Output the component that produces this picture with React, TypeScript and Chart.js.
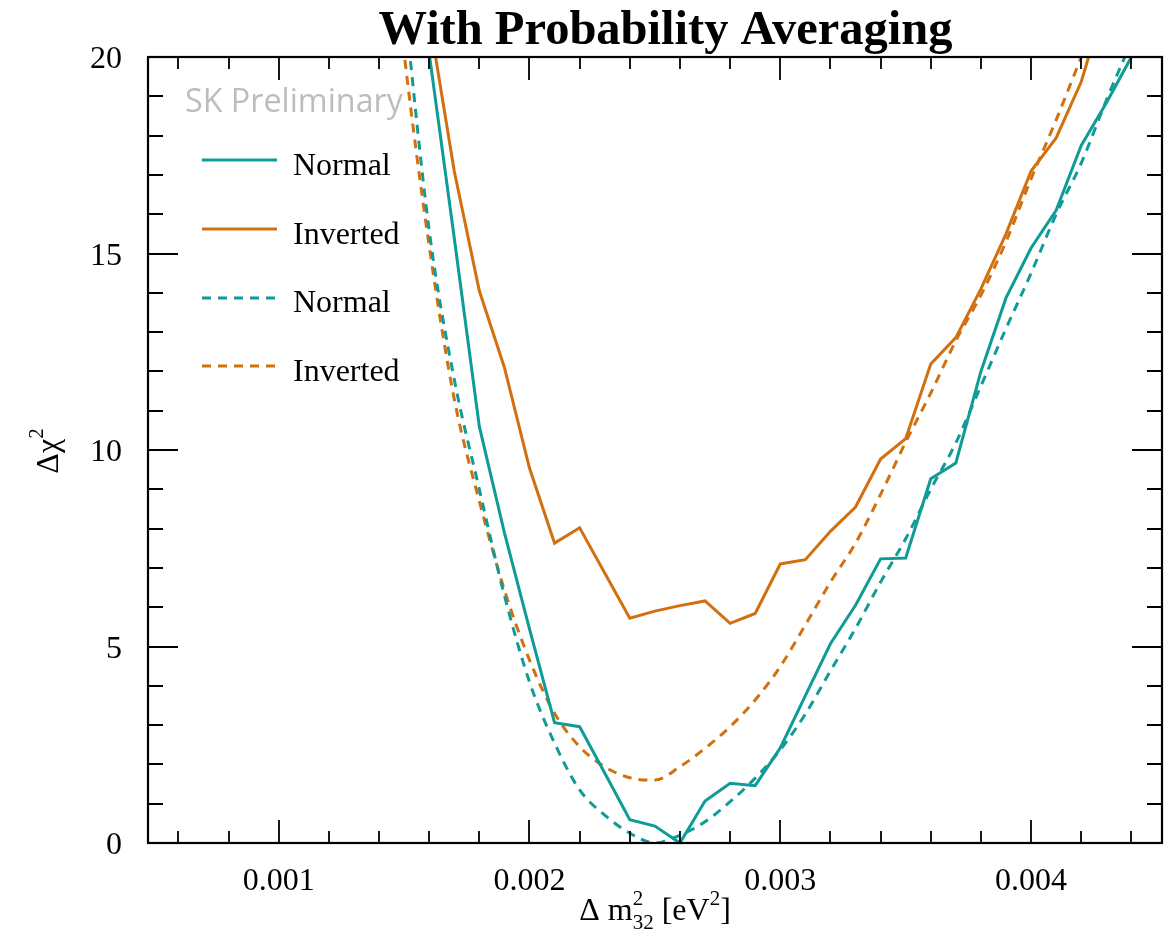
import React, { useEffect, useRef } from 'react';
import { Chart, registerables } from 'chart.js';

Chart.register(...registerables);

// ---- data ----
const X_VALUES = [
  0.0014, 0.0015, 0.0016, 0.0017, 0.0018, 0.0019, 0.0020, 0.0021, 0.0022, 0.0023, 0.0024,
  0.0025, 0.0026, 0.0027, 0.0028, 0.0029, 0.0030, 0.0031, 0.0032, 0.0033, 0.0034, 0.0035,
  0.0036, 0.0037, 0.0038, 0.0039, 0.0040, 0.0041, 0.0042, 0.0043, 0.0044, 0.0045,
];

const NORMAL_SOLID = [
  null, 24.5, 20.1, 15.4, 10.6, 7.9, 5.45, 3.06, 2.96, 1.78, 0.59,
  0.43, 0.0, 1.07, 1.52, 1.46, 2.42, 3.75, 5.07, 6.05, 7.23, 7.25,
  9.27, 9.67, 12.0, 13.87, 15.14, 16.1, 17.75, 18.83, 20.0, 21.2,
];

const INVERTED_SOLID = [
  null, 26, 21.0, 17.1, 14.05, 12.1, 9.54, 7.63, 8.02, 6.87, 5.72,
  5.9, 6.04, 6.16, 5.59, 5.84, 7.1, 7.21, 7.93, 8.55, 9.77, 10.29,
  12.19, 12.86, 14.1, 15.5, 17.1, 17.94, 19.37, 21.5, null, null,
];

const NORMAL_DASHED = [
  28, 21.5, 15.6, 11.8, 9.0, 6.3, 4.1, 2.54, 1.35, 0.71, 0.25,
  0.0, 0.2, 0.54, 1.05, 1.65, 2.37, 3.28, 4.38, 5.46, 6.64, 7.74,
  9.0, 10.18, 11.63, 13.09, 14.5, 16.0, 17.3, 18.9, 20.4, 22.0,
];

const INVERTED_DASHED = [
  26, 20.1, 15.2, 11.3, 8.7, 6.44, 4.66, 3.3, 2.45, 1.94, 1.66,
  1.6, 1.94, 2.41, 2.96, 3.64, 4.49, 5.55, 6.64, 7.63, 8.87, 10.2,
  11.45, 12.78, 13.94, 15.3, 16.9, 18.4, 20.0, 21.6, null, null,
];

const SERIES_LABELS = ['Normal', 'Inverted', 'Normal', 'Inverted'];

const X_TICK_VALUES = [0.001, 0.002, 0.003, 0.004];
const X_TICK_LABELS = ['0.001', '0.002', '0.003', '0.004'];
const Y_TICK_VALUES = [0, 5, 10, 15, 20];
const Y_TICK_LABELS = ['0', '5', '10', '15', '20'];

const TITLE = 'With Probability Averaging';
const WATERMARK = 'SK Preliminary';

const TEAL = '#0f9b97';
const ORANGE = '#d2700f';
const SERIF = '"Liberation Serif", "Times New Roman", serif';

const toPoints = (ys: (number | null)[]) => X_VALUES.map((x, i) => ({ x, y: ys[i] }));

type Part = { t: string; size: number; dy?: number; stackWith?: Part };

function drawRich(ctx: CanvasRenderingContext2D, parts: Part[], cx: number, y: number) {
  const widths = parts.map((p) => {
    ctx.font = `${p.size}px ${SERIF}`;
    let w = ctx.measureText(p.t).width;
    if (p.stackWith) {
      ctx.font = `${p.stackWith.size}px ${SERIF}`;
      w = Math.max(w, ctx.measureText(p.stackWith.t).width);
    }
    return w;
  });
  const total = widths.reduce((a, b) => a + b, 0);
  let x = cx - total / 2;
  ctx.textAlign = 'left';
  ctx.textBaseline = 'alphabetic';
  parts.forEach((p, i) => {
    ctx.font = `${p.size}px ${SERIF}`;
    ctx.fillText(p.t, x, y + (p.dy || 0));
    if (p.stackWith) {
      ctx.font = `${p.stackWith.size}px ${SERIF}`;
      ctx.fillText(p.stackWith.t, x, y + (p.stackWith.dy || 0));
    }
    x += widths[i];
  });
}

const overlayPlugin = {
  id: 'overlay',
  afterDraw(chart: any) {
    const ctx: CanvasRenderingContext2D = chart.ctx;
    const { left, right, top, bottom } = chart.chartArea;
    const xs = chart.scales.x;
    const ys = chart.scales.y;
    ctx.save();
    ctx.fillStyle = '#000';
    ctx.strokeStyle = '#000';

    // ticks
    ctx.lineWidth = 1.8;
    ctx.beginPath();
    const xMinorStep = 0.0002;
    for (let k = Math.ceil(xs.min / xMinorStep); k * xMinorStep <= xs.max; k++) {
      const v = k * xMinorStep;
      const isMajor = X_TICK_VALUES.some((m) => Math.abs(m - v) < 1e-9);
      const len = isMajor ? 23 : 12;
      const px = Math.round(xs.getPixelForValue(v)) + 0.0;
      ctx.moveTo(px, bottom);
      ctx.lineTo(px, bottom - len);
      ctx.moveTo(px, top);
      ctx.lineTo(px, top + len);
    }
    for (let v = Math.ceil(ys.min); v <= ys.max; v++) {
      const isMajor = Y_TICK_VALUES.includes(v);
      const len = isMajor ? 30 : 15;
      const py = Math.round(ys.getPixelForValue(v));
      ctx.moveTo(left, py);
      ctx.lineTo(left + len, py);
      ctx.moveTo(right, py);
      ctx.lineTo(right - len, py);
    }
    ctx.stroke();

    // frame
    ctx.lineWidth = 2.2;
    ctx.strokeRect(left, top, right - left, bottom - top);

    // tick labels
    ctx.font = `32px ${SERIF}`;
    ctx.textAlign = 'center';
    ctx.textBaseline = 'alphabetic';
    X_TICK_VALUES.forEach((v, i) => {
      ctx.fillText(X_TICK_LABELS[i], xs.getPixelForValue(v), bottom + 47);
    });
    ctx.textAlign = 'right';
    Y_TICK_VALUES.forEach((v, i) => {
      ctx.fillText(Y_TICK_LABELS[i], left - 26, ys.getPixelForValue(v) + 11);
    });

    // x axis title
    drawRich(
      ctx,
      [
        { t: '\u0394 m', size: 32 },
        { t: '2', size: 21, dy: -15, stackWith: { t: '32', size: 21, dy: 9 } },
        { t: ' [eV', size: 32 },
        { t: '2', size: 21, dy: -15 },
        { t: ']', size: 32 },
      ],
      (left + right) / 2,
      920
    );

    // y axis title
    ctx.save();
    ctx.translate(58, 451);
    ctx.rotate(-Math.PI / 2);
    drawRich(
      ctx,
      [
        { t: '\u0394\u03c7', size: 32 },
        { t: '2', size: 21, dy: -15 },
      ],
      0,
      0
    );
    ctx.restore();

    // title
    ctx.font = `bold 44px ${SERIF}`;
    const tw = ctx.measureText(TITLE).width;
    const tSize = (44 * 574) / tw;
    ctx.font = `bold ${tSize.toFixed(2)}px ${SERIF}`;
    ctx.textAlign = 'center';
    ctx.textBaseline = 'alphabetic';
    ctx.fillText(TITLE, 665.5, 44);

    // watermark
    ctx.font = `31px "Open Sans", "Noto Sans", sans-serif`;
    const ww = ctx.measureText(WATERMARK).width;
    const wSize = (31 * 218) / ww;
    ctx.font = `${wSize.toFixed(2)}px "Open Sans", "Noto Sans", sans-serif`;
    ctx.fillStyle = '#bdbdbd';
    ctx.textAlign = 'left';
    ctx.fillText(WATERMARK, 185, 112);

    // legend
    const rowsLineY = [160, 229, 298, 366];
    const rowsTextY = [175, 244, 312, 381];
    chart.data.datasets.forEach((ds: any, i: number) => {
      ctx.strokeStyle = ds.borderColor;
      ctx.lineWidth = 3;
      ctx.setLineDash(ds.borderDash || []);
      ctx.beginPath();
      ctx.moveTo(202, rowsLineY[i]);
      ctx.lineTo(277, rowsLineY[i]);
      ctx.stroke();
      ctx.setLineDash([]);
      ctx.fillStyle = '#000';
      ctx.font = `32px ${SERIF}`;
      ctx.textAlign = 'left';
      ctx.fillText(ds.label, 293, rowsTextY[i]);
    });

    ctx.restore();
  },
};

export default function App() {
  const canvasRef = useRef<HTMLCanvasElement | null>(null);

  useEffect(() => {
    if (!canvasRef.current) return;
    const chart = new Chart(canvasRef.current, {
      type: 'line',
      data: {
        datasets: [
          {
            label: SERIES_LABELS[0],
            data: toPoints(NORMAL_SOLID),
            borderColor: TEAL,
            borderWidth: 3,
            pointRadius: 0,
            tension: 0,
            clip: 0,
          },
          {
            label: SERIES_LABELS[1],
            data: toPoints(INVERTED_SOLID),
            borderColor: ORANGE,
            borderWidth: 3,
            pointRadius: 0,
            tension: 0,
            clip: 0,
          },
          {
            label: SERIES_LABELS[2],
            data: toPoints(NORMAL_DASHED),
            borderColor: TEAL,
            borderWidth: 3,
            borderDash: [9, 7],
            pointRadius: 0,
            cubicInterpolationMode: 'monotone',
            clip: 0,
          },
          {
            label: SERIES_LABELS[3],
            data: toPoints(INVERTED_DASHED),
            borderColor: ORANGE,
            borderWidth: 3,
            borderDash: [9, 7],
            pointRadius: 0,
            cubicInterpolationMode: 'monotone',
            clip: 0,
          },
        ] as any,
      },
      options: {
        animation: false,
        responsive: false,
        layout: { padding: { top: 57, left: 0, right: 9, bottom: 0 } },
        plugins: { legend: { display: false }, title: { display: false }, tooltip: { enabled: false } },
        scales: {
          x: {
            type: 'linear',
            min: 0.000479,
            max: 0.004522,
            grid: { display: false },
            border: { display: false },
            ticks: { display: false },
            afterFit: (s: any) => {
              s.height = 90;
            },
          },
          y: {
            type: 'linear',
            min: 0,
            max: 20,
            grid: { display: false },
            border: { display: false },
            ticks: { display: false },
            afterFit: (s: any) => {
              s.width = 148;
            },
          },
        },
      } as any,
      plugins: [overlayPlugin],
    });
    return () => chart.destroy();
  }, []);

  return (
    <div style={{ position: 'absolute', left: 0, top: 0, width: 1171, height: 933, background: '#fff' }}>
      <canvas ref={canvasRef} width={1171} height={933} />
    </div>
  );
}
